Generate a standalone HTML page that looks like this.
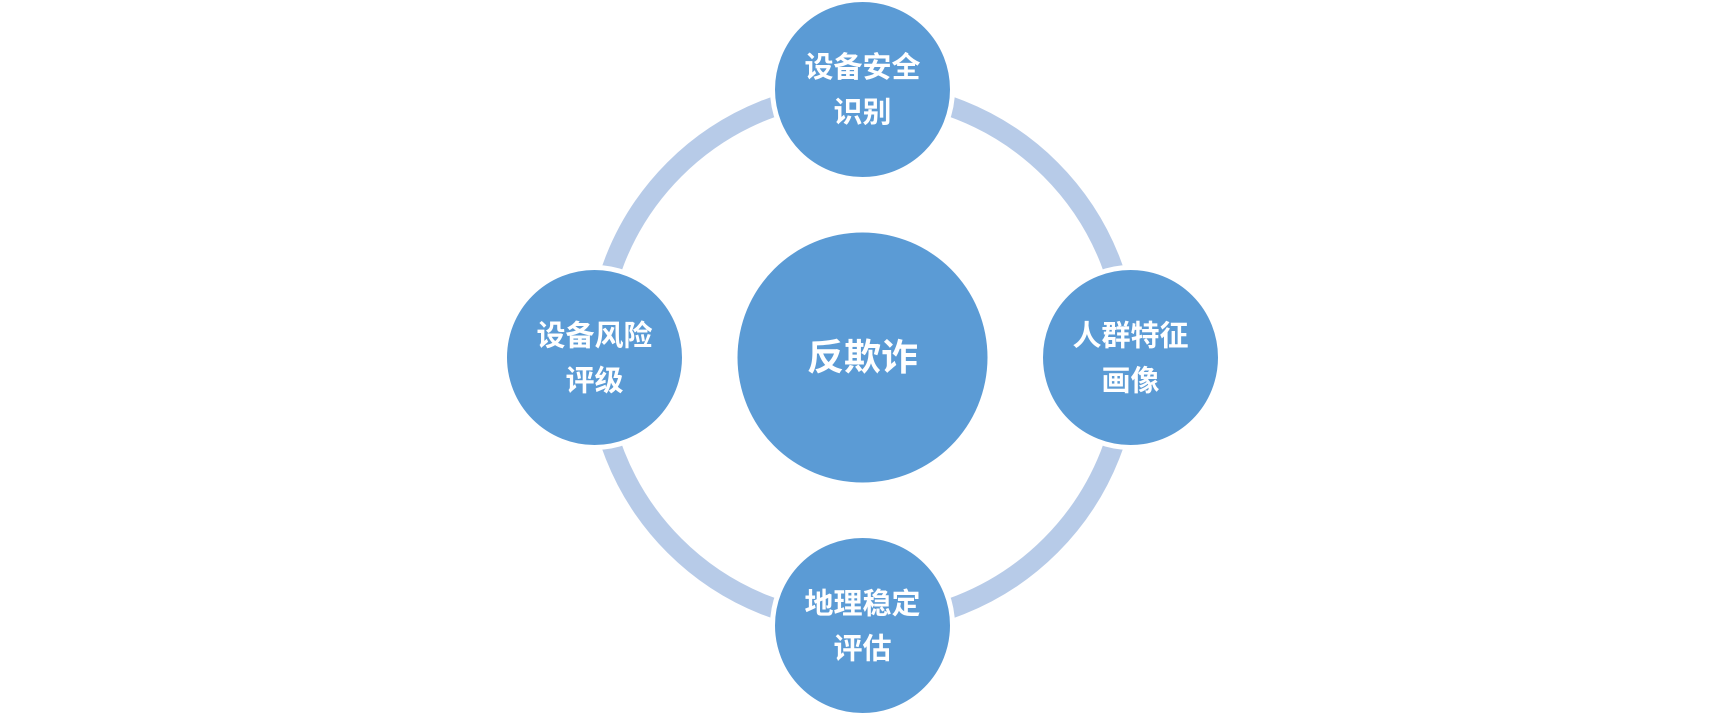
<!DOCTYPE html>
<html>
<head>
<meta charset="utf-8">
<style>
  html, body { margin: 0; padding: 0; background: #ffffff; }
  body { width: 1725px; height: 715px; overflow: hidden; }
  svg { display: block; }
  text { font-family: "Liberation Sans", "Noto Sans CJK SC", "WenQuanYi Zen Hei", sans-serif; font-weight: bold; fill: #ffffff; text-anchor: middle; }
</style>
</head>
<body>
<svg width="1725" height="715" viewBox="0 0 1725 715" xmlns="http://www.w3.org/2000/svg">
  <!-- ring -->
  <circle cx="862.5" cy="357.5" r="266" fill="none" stroke="#B7CBE8" stroke-width="20"/>

  <!-- center -->
  <circle cx="862.5" cy="357.5" r="125" fill="#5B9BD5"/>
  <text x="862.5" y="370" font-size="37">反欺诈</text>

  <!-- top -->
  <circle cx="862.5" cy="89.5" r="90" fill="#5B9BD5" stroke="#ffffff" stroke-width="5"/>
  <text x="862.5" y="77" font-size="29">设备安全</text>
  <text x="862.5" y="122" font-size="29">识别</text>

  <!-- right -->
  <circle cx="1130.5" cy="357.5" r="90" fill="#5B9BD5" stroke="#ffffff" stroke-width="5"/>
  <text x="1130.5" y="345.5" font-size="29">人群特征</text>
  <text x="1130.5" y="390.5" font-size="29">画像</text>

  <!-- bottom -->
  <circle cx="862.5" cy="625.5" r="90" fill="#5B9BD5" stroke="#ffffff" stroke-width="5"/>
  <text x="862.5" y="613.5" font-size="29">地理稳定</text>
  <text x="862.5" y="658.5" font-size="29">评估</text>

  <!-- left -->
  <circle cx="594.5" cy="357.5" r="90" fill="#5B9BD5" stroke="#ffffff" stroke-width="5"/>
  <text x="594.5" y="345.5" font-size="29">设备风险</text>
  <text x="594.5" y="390.5" font-size="29">评级</text>
</svg>
</body>
</html>
